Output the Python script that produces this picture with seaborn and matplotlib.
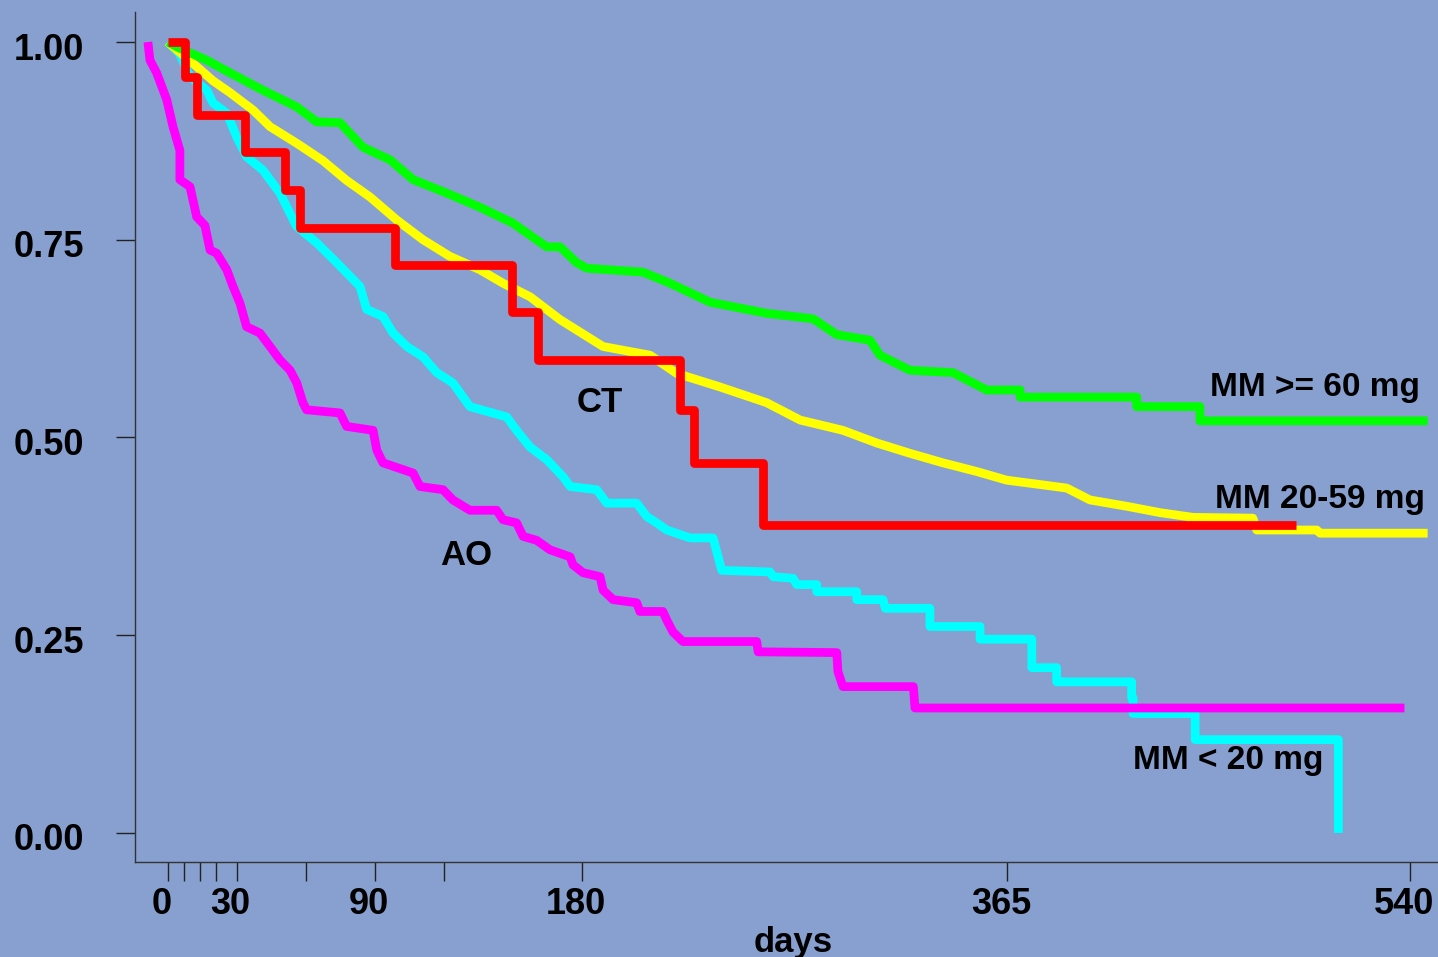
import numpy as np
import pandas as pd
import matplotlib
matplotlib.use('Agg')
import matplotlib.pyplot as plt
import matplotlib.transforms as mtransforms
import seaborn as sns

# Survival curves: (day, survival) vertices of each line
ao_days = [-8.6, -7.7, -4.8, -0.4, 2.3, 5.3, 5.3, 9.7, 12.6, 16.2, 18.4, 21.3, 25.7, 28.4,
           31.4, 34.3, 40.1, 44.5, 48.8, 53.2, 56.1, 58.8, 60.4, 74.9, 77.8, 89.3, 90.9, 93.6,
           106.7, 109.7, 119.7, 124, 131.4, 143, 145.8, 151.7, 154.5, 160.4, 166.2, 175,
           176.2, 180.6, 188, 189.3, 193.6, 203.9, 205.3, 215.3, 217, 219.7, 224, 256.1,
           256.7, 290.9, 291.4, 293.6, 324.2, 324.9, 537.7]
ao_surv = [1.0, 0.977, 0.961, 0.927, 0.893, 0.863, 0.826, 0.817, 0.779, 0.768, 0.737, 0.733,
           0.712, 0.691, 0.670, 0.640, 0.632, 0.615, 0.598, 0.585, 0.569, 0.544, 0.535, 0.531,
           0.514, 0.509, 0.484, 0.468, 0.455, 0.438, 0.434, 0.421, 0.408, 0.408, 0.396, 0.392,
           0.375, 0.370, 0.358, 0.349, 0.339, 0.329, 0.324, 0.307, 0.295, 0.291, 0.280, 0.280,
           0.269, 0.254, 0.242, 0.242, 0.229, 0.228, 0.204, 0.185, 0.185, 0.158, 0.158]

low_days = [0, 5, 9.7, 17, 19.7, 25.7, 30, 34.3, 41.4, 48.8, 56, 64.8, 73.5, 83.6, 86.5, 93.6,
            98, 104, 111, 117, 124, 131.4, 147.4, 151.7, 157.5, 164.8, 172, 175, 186.5, 190.9,
            203.9, 208.3, 212.6, 217, 227.1, 237.1, 240.9, 261.9, 263.2, 271.9, 273.5, 282.2,
            282.2, 299.6, 299.6, 311, 312, 331.4, 331.4, 353.2, 353.2, 375.7, 375.7, 386.5,
            386.5, 419.1, 419.1, 419.7, 419.7, 446.7, 446.7, 509, 509]
low_surv = [1.0, 0.986, 0.956, 0.939, 0.923, 0.910, 0.880, 0.855, 0.838, 0.809, 0.767, 0.746,
            0.721, 0.691, 0.662, 0.653, 0.632, 0.615, 0.602, 0.582, 0.569, 0.539, 0.526, 0.509,
            0.488, 0.472, 0.450, 0.438, 0.434, 0.417, 0.417, 0.400, 0.392, 0.383, 0.373, 0.373,
            0.332, 0.330, 0.324, 0.322, 0.314, 0.314, 0.305, 0.305, 0.295, 0.295, 0.284, 0.284,
            0.261, 0.261, 0.245, 0.245, 0.209, 0.209, 0.191, 0.191, 0.171, 0.171, 0.151, 0.151,
            0.118, 0.118, 0.0]

mid_days = [0, 12.6, 19.7, 27.1, 37.1, 44.5, 56.1, 67.5, 77.8, 88, 99.6, 111, 122.7, 135.8,
            145.8, 157.5, 170.6, 189.3, 209.7, 221.3, 240, 260.4, 275, 293.6, 308.3, 322.7,
            337, 351.7, 364.8, 380.6, 390.9, 401, 417, 431.4, 445.8, 471.8, 473.5, 499.6, 501,
            547.8]
mid_surv = [1.0, 0.969, 0.951, 0.936, 0.914, 0.893, 0.872, 0.850, 0.825, 0.804, 0.775, 0.750,
            0.729, 0.712, 0.695, 0.678, 0.649, 0.615, 0.604, 0.581, 0.564, 0.544, 0.522, 0.509,
            0.493, 0.480, 0.468, 0.457, 0.446, 0.440, 0.436, 0.421, 0.413, 0.405, 0.399, 0.398,
            0.383, 0.383, 0.379, 0.379]

high_days = [0, 5.3, 17, 27.1, 41.4, 56.1, 64.8, 74.9, 84.9, 96.7, 106.7, 121.3, 135.8, 150.1,
             164.8, 170.6, 177.8, 182.2, 206.7, 218.4, 235.8, 260.4, 280.6, 290.9, 305.3,
             309.7, 322.7, 341.4, 356.1, 370.6, 370.6, 421.3, 421.3, 448.8, 448.8, 547.8]
high_surv = [1.0, 0.992, 0.977, 0.961, 0.939, 0.918, 0.899, 0.898, 0.867, 0.851, 0.826, 0.809,
             0.791, 0.771, 0.741, 0.741, 0.721, 0.714, 0.709, 0.695, 0.671, 0.657, 0.650, 0.630,
             0.623, 0.604, 0.585, 0.582, 0.560, 0.560, 0.551, 0.551, 0.539, 0.539, 0.521, 0.521]

# CT has few events: drawn as a true step function
ct_days = [0, 7.5, 12.7, 33.6, 51, 57.5, 98.8, 149.7, 161, 222.7, 228.8, 258.8, 490.6]
ct_surv = [1.0, 0.956, 0.908, 0.861, 0.813, 0.765, 0.718, 0.659, 0.598, 0.535, 0.468, 0.389, 0.389]

tick_days = [0, 7, 14, 21, 30, 60, 90, 120, 180, 365, 540]
tick_text = ['0', '', '', '', '30', '', '90', '', '180', '365', '540']
y_ticks = [0.0, 0.25, 0.50, 0.75, 1.00]

bg = '#87a0d0'
sns.set_style('ticks')
plt.rcParams['font.family'] = ['Liberation Sans', 'DejaVu Sans']
plt.rcParams['font.weight'] = 'bold'
plt.rcParams['text.color'] = 'black'
plt.rcParams['axes.labelcolor'] = 'black'

fig = plt.figure(figsize=(14.38, 9.57), dpi=100, facecolor=bg)
ax = fig.add_axes([0.0939, 0.0993, 0.9061, 0.8882], facecolor=bg)

series = [
    (low_days, low_surv, '#00ffff', 'default'),
    (ao_days, ao_surv, '#ff00ff', 'default'),
    (mid_days, mid_surv, '#ffff00', 'default'),
    (high_days, high_surv, '#00ff00', 'default'),
    (ct_days, ct_surv, '#ff0000', 'steps-post'),
]
for d, s, c, ds in series:
    df = pd.DataFrame({'day': d, 'surv': s})
    sns.lineplot(data=df, x='day', y='surv', ax=ax, color=c, lw=6.3,
                 drawstyle=ds, estimator=None, sort=False, legend=False,
                 solid_joinstyle='round', solid_capstyle='butt')

ax.text(188, 0.544, 'CT', fontsize=25, fontweight='bold', ha='center', va='center')
ax.text(130, 0.351, 'AO', fontsize=25, fontweight='bold', ha='center', va='center')
ax.text(544.5, 0.563, 'MM >= 60 mg', fontsize=24, fontweight='bold', ha='right', va='center')
ax.text(546.7, 0.421, 'MM 20-59 mg', fontsize=24, fontweight='bold', ha='right', va='center')
ax.text(419.7, 0.092, 'MM < 20 mg', fontsize=24, fontweight='bold', ha='left', va='center')

ax.set_xlim(-14.2, 552.3)
ax.set_ylim(-0.0367, 1.038)
ax.set_xticks(tick_days)
ax.set_xticklabels(tick_text)
ax.set_yticks(y_ticks)
ax.set_yticklabels(['0.00', '0.25', '0.50', '0.75', '1.00'])
ax.tick_params(axis='x', length=14, width=1, pad=4, labelsize=26, colors='#222222',
               labelcolor='black')
ax.tick_params(axis='y', length=14, width=1, pad=23, labelsize=26, colors='#222222',
               labelcolor='black')
ax.set_xlabel('days', fontsize=25, fontweight='bold')
ax.xaxis.set_label_coords(0.505, -0.075)
ax.set_ylabel('')
sns.despine(ax=ax, top=True, right=True)
for sp in ['left', 'bottom']:
    ax.spines[sp].set_color('#333333')
    ax.spines[sp].set_linewidth(1)

# tick labels in the reference sit slightly left of / below their ticks
xoff = mtransforms.ScaledTranslation(-6 / 100, 0, fig.dpi_scale_trans)
for lbl in ax.get_xticklabels():
    lbl.set_transform(lbl.get_transform() + xoff)
yoff = mtransforms.ScaledTranslation(0, -4 / 100, fig.dpi_scale_trans)
for lbl in ax.get_yticklabels():
    lbl.set_transform(lbl.get_transform() + yoff)

fig.savefig('out.png', dpi=100, facecolor=bg)
